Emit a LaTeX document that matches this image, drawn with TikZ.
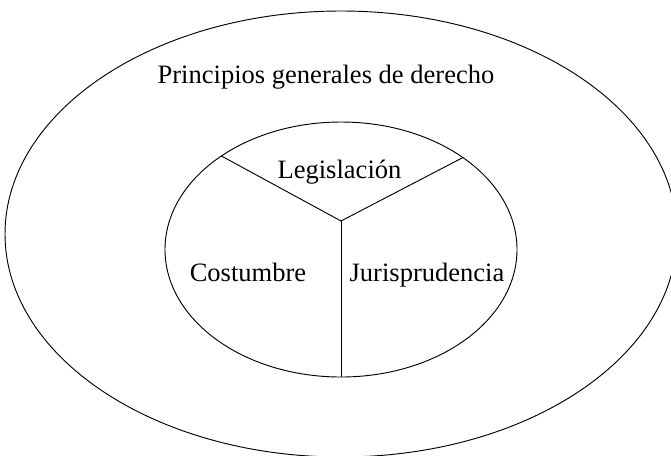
\documentclass[tikz,border=0pt]{standalone}
\usepackage{fontspec}
\setmainfont{Liberation Serif}
\usetikzlibrary{shapes.geometric}
\begin{document}
\begin{tikzpicture}[x=0.75pt,y=-0.75pt,
  ring/.style={draw,ellipse,line width=0.7pt,inner sep=0pt},
  lbl/.style={anchor=base,inner sep=0pt,font=\fontsize{19.9}{24}\selectfont},
  divider/.style={line width=0.7pt}]
\clip (0,0) rectangle (671,455);
\node[ring,minimum width=504pt,minimum height=334.5pt] (outer) at (341,234) {};
\node[ring,minimum width=264pt,minimum height=191.25pt] (inner) at (341,249.5) {};
\coordinate (hub) at (341,221);
\draw[divider] (inner.142.9) -- (hub) -- (inner.37.3);
\draw[divider] (hub) -- (inner.south);
\node[lbl] (pgd) at (326,83) {Principios generales de derecho};
\node[lbl] (leg) at (339.5,178) {Legislación};
\node[lbl] (cos) at (248,281) {Costumbre};
\node[lbl] (jur) at (427,281) {Jurisprudencia};
\end{tikzpicture}
\end{document}
